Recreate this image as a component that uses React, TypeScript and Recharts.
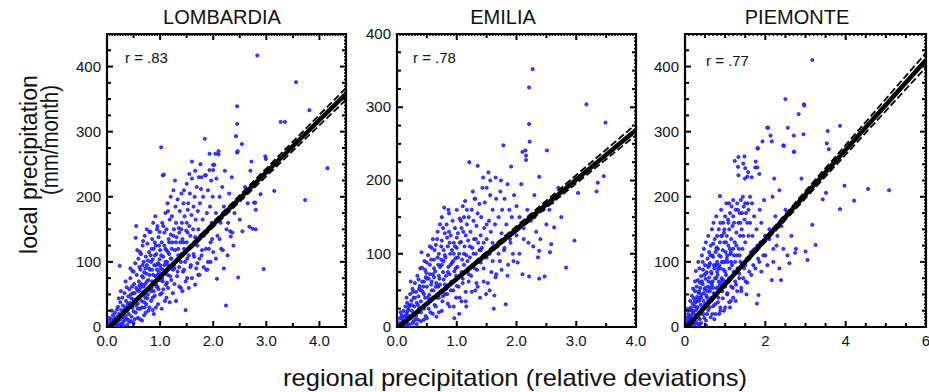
import React from "react";
import { ScatterChart, Scatter, XAxis, YAxis, ReferenceArea } from "recharts";

const FONT = "'Liberation Sans', Arial, Helvetica, sans-serif";

const titles = ["LOMBARDIA", "EMILIA", "PIEMONTE"];
const rLabels = ["r = .83", "r = .78", "r = .77"];
const yAxisLabel = ["local precipitation", "(mm/month)"];
const xAxisLabel = "regional precipitation (relative deviations)";

// points, [regional deviation, local mm/month]
const lombardiaPts: [number, number][] = [
  [0.03,2],[0.05,8],[0.06,1],[0.08,12],[0.1,5],[0.11,18],[0.12,3],[0.14,9],[0.15,22],[0.16,14],[0.18,6],[0.19,27],[0.2,16],[0.07,4],[0.13,11],[0.17,2],[0.09,25],[0.04,14],
  [0.21,31],[0.22,10],[0.23,20],[0.24,94],[0.25,38],[0.26,4],[0.27,26],[0.28,15],[0.29,45],[0.3,33],[0.31,8],[0.32,22],[0.33,52],[0.34,28],[0.35,17],[0.36,40],[0.37,61],[0.38,12],[0.39,35],[0.4,47],[0.22,44],[0.26,55],[0.3,2],[0.35,70],[0.38,25],
  [0.41,20],[0.42,58],[0.43,37],[0.44,75],[0.45,9],[0.46,44],[0.47,30],[0.48,86],[0.49,52],[0.5,24],[0.51,66],[0.52,40],[0.53,98],[0.54,137],[0.55,155],[0.55,33],[0.56,80],[0.57,57],[0.58,14],[0.59,105],[0.6,46],[0.6,70],[0.44,90],[0.47,62],[0.52,12],[0.57,118],[0.5,85],[0.58,36],
  [0.61,92],[0.62,28],[0.63,60],[0.64,112],[0.65,40],[0.66,78],[0.67,125],[0.68,54],[0.69,100],[0.7,18],[0.7,84],[0.71,140],[0.72,66],[0.73,108],[0.74,35],[0.75,95],[0.76,128],[0.77,50],[0.78,72],[0.79,115],[0.8,146],[0.8,60],[0.63,88],[0.66,10],[0.68,132],[0.72,45],[0.75,150],[0.78,25],[0.62,115],[0.74,82],[0.77,102],[0.69,62],
  [0.81,88],[0.82,146],[0.83,40],[0.84,120],[0.85,70],[0.86,104],[0.87,160],[0.88,55],[0.89,95],[0.9,130],[0.91,78],[0.92,30],[0.93,112],[0.94,150],[0.95,62],[0.96,98],[0.97,138],[0.98,84],[0.99,146],[1.0,50],[1.0,118],[0.83,100],[0.85,135],[0.88,20],[0.91,170],[0.94,88],[0.97,72],[0.86,45],[0.9,110],[0.99,104],[0.92,125],[0.95,155],
  [1.01,90],[1.02,276],[1.03,130],[1.04,160],[1.05,233],[1.05,70],[1.06,108],[1.07,234],[1.08,145],[1.09,40],[1.1,120],[1.1,175],[1.11,85],[1.12,150],[1.13,100],[1.14,190],[1.15,60],[1.16,135],[1.17,112],[1.18,165],[1.19,78],[1.2,142],[1.2,200],[1.03,52],[1.08,95],[1.12,118],[1.15,178],[1.18,92],[1.06,155],[1.13,68],
  [1.21,105],[1.22,170],[1.23,130],[1.24,88],[1.25,210],[1.26,150],[1.27,66],[1.28,118],[1.29,185],[1.3,100],[1.3,160],[1.31,138],[1.32,78],[1.33,196],[1.34,120],[1.35,152],[1.36,92],[1.37,178],[1.38,130],[1.39,60],[1.4,112],[1.4,205],[1.25,140],[1.33,104],[1.36,145],[1.28,225],
  [1.41,160],[1.42,135],[1.43,85],[1.44,190],[1.45,120],[1.46,170],[1.47,100],[1.48,26],[1.49,148],[1.5,220],[1.5,130],[1.51,75],[1.52,180],[1.53,190],[1.54,110],[1.55,155],[1.56,205],[1.57,140],[1.58,95],[1.59,172],[1.6,254],[1.6,228],[1.6,125],[1.45,210],[1.55,235],
  [1.62,150],[1.63,185],[1.64,108],[1.65,200],[1.66,138],[1.67,165],[1.68,90],[1.69,215],[1.7,125],[1.71,178],[1.72,150],[1.73,230],[1.74,105],[1.75,190],[1.76,140],[1.77,212],[1.78,230],[1.79,118],[1.8,165],[1.66,240],[1.72,80],[1.76,250],
  [1.81,200],[1.82,140],[1.84,289],[1.85,233],[1.86,233],[1.87,88],[1.88,175],[1.89,88],[1.9,210],[1.91,150],[1.92,120],[1.93,266],[1.93,241],[1.94,185],[1.95,100],[1.96,225],[1.97,160],[1.98,135],[1.99,200],[2.0,249],[2.0,241],[2.0,115],
  [2.02,249],[2.04,266],[2.05,175],[2.06,228],[2.07,74],[2.08,140],[2.1,265],[2.1,270],[2.12,200],[2.14,160],[2.15,120],[2.17,215],[2.2,90],[2.2,185],[2.22,240],[2.24,33],[2.25,150],[2.27,110],[2.3,205],[2.32,147],[2.33,139],[2.35,230],[2.38,125],[2.4,175],
  [2.43,293],[2.45,339],[2.45,312],[2.45,268],[2.46,270],[2.47,76],[2.5,200],[2.54,281],[2.55,147],[2.6,215],[2.65,190],[2.68,154],[2.7,240],[2.72,254],[2.74,151],[2.77,191],[2.79,191],[2.8,180],[2.8,150],[2.83,417],[2.89,204],[2.95,89],[2.98,262],[2.99,258],
  [3.15,209],[3.27,315],[3.35,315],[3.56,376],[3.73,195],[3.81,333],[4.02,321],[4.15,244],
  [0.15,0],[0.22,2],[0.28,5],[0.33,12],[0.38,3],[0.42,8],[0.46,16],[0.5,6],[0.54,22],[0.58,28],[0.62,12],[0.66,30],[0.7,38],[0.73,22],[0.76,44],[0.8,30],[0.83,55],[0.86,26],[0.9,48],[0.93,62],[0.96,35],[1.0,72],[1.03,28],[1.06,58],[1.09,82],[1.12,45],[1.15,95],[1.18,38],[1.21,72],[1.24,52],[1.27,90],[1.3,40],[1.33,85],[1.36,62],[1.39,100],[1.42,55],[1.45,88],[1.48,70],[1.51,105],[1.54,60],[1.57,92],[1.6,75],[1.63,112],[1.66,65],[1.7,98],[1.74,80],[1.78,110],[1.82,92],[1.86,120],[1.9,100],[1.95,130],[2.05,105],[2.12,135],[2.18,118],[2.28,160],[2.36,145],[2.5,165],
  [0.45,50],[0.5,42],[0.55,60],[0.6,55],[0.65,66],[0.7,50],[0.75,70],[0.8,80],[0.85,88],[0.9,70],[0.95,80],[1.0,95],[1.05,88],[1.1,100],[1.15,115],[1.2,105],[0.48,30],[0.52,52],[0.64,48],[0.68,76],[0.72,90],[0.78,58],[0.82,110],[0.88,120],[0.92,66],[0.98,125],[1.02,110],[1.08,125],[1.14,80],[1.22,120],[1.3,130],[1.4,150],[1.5,160],[0.35,30],[0.4,10],[0.25,12],[0.3,20],[0.2,8],[0.1,3],[0.57,44],[0.61,64],[0.67,95],[0.71,30],[0.79,90],[0.84,60],[0.87,80],[0.93,95],[0.97,58],[1.04,75],[1.11,65],[1.17,130],[1.26,95],[1.34,110],[1.44,130],[1.52,145],
];

const emiliaPts: [number, number][] = [
  [0.02,1],[0.04,6],[0.05,12],[0.07,3],[0.08,16],[0.1,8],[0.11,22],[0.12,2],[0.13,14],[0.14,28],[0.15,6],[0.16,19],[0.17,33],[0.18,10],[0.19,24],[0.2,4],[0.06,20],[0.09,11],[0.16,40],[0.2,15],
  [0.21,30],[0.22,45],[0.23,12],[0.24,36],[0.25,22],[0.26,52],[0.27,7],[0.28,40],[0.29,28],[0.3,60],[0.31,18],[0.32,48],[0.33,33],[0.34,70],[0.35,10],[0.36,42],[0.37,25],[0.38,56],[0.39,80],[0.4,35],[0.23,62],[0.28,18],[0.33,4],[0.36,65],[0.4,20],
  [0.41,102],[0.42,81],[0.43,48],[0.44,28],[0.45,62],[0.46,90],[0.47,40],[0.48,15],[0.49,74],[0.5,55],[0.51,32],[0.52,98],[0.53,66],[0.54,44],[0.55,85],[0.56,20],[0.57,58],[0.58,108],[0.59,38],[0.6,72],[0.6,120],[0.45,10],[0.5,88],[0.55,110],[0.58,50],[0.48,68],[0.53,25],[0.44,55],
  [0.61,50],[0.62,92],[0.63,30],[0.64,76],[0.65,112],[0.66,60],[0.67,40],[0.68,130],[0.69,85],[0.7,20],[0.7,100],[0.71,66],[0.72,140],[0.73,48],[0.74,92],[0.75,118],[0.76,35],[0.77,75],[0.78,105],[0.79,163],[0.8,58],[0.8,128],[0.63,105],[0.66,14],[0.69,55],[0.72,82],[0.75,150],[0.77,42],[0.62,68],[0.74,110],[0.78,90],
  [0.81,95],[0.82,70],[0.83,140],[0.84,45],[0.85,110],[0.86,82],[0.87,155],[0.88,28],[0.89,100],[0.9,125],[0.91,62],[0.92,88],[0.93,145],[0.94,50],[0.95,115],[0.96,76],[0.97,135],[0.98,94],[0.99,40],[1.0,108],[1.0,160],[0.84,122],[0.88,72],[0.92,105],[0.96,12],[0.99,70],[0.86,160],[0.94,90],
  [1.01,82],[1.02,128],[1.03,55],[1.04,100],[1.05,148],[1.06,70],[1.07,116],[1.08,35],[1.09,92],[1.1,165],[1.1,60],[1.11,130],[1.12,85],[1.13,110],[1.14,172],[1.15,48],[1.16,98],[1.17,140],[1.18,76],[1.19,118],[1.2,150],[1.2,62],[1.04,18],[1.12,150],[1.16,28],[1.08,135],
  [1.21,225],[1.22,95],[1.23,130],[1.24,70],[1.25,160],[1.26,108],[1.27,85],[1.28,145],[1.29,120],[1.3,175],[1.31,50],[1.31,175],[1.32,100],[1.33,138],[1.34,78],[1.35,220],[1.35,155],[1.36,115],[1.37,90],[1.38,168],[1.39,40],[1.4,125],[1.27,185],[1.33,60],[1.38,105],
  [1.41,150],[1.42,108],[1.44,204],[1.45,80],[1.46,135],[1.47,170],[1.48,95],[1.5,190],[1.5,120],[1.52,60],[1.53,211],[1.54,145],[1.55,100],[1.56,180],[1.57,130],[1.58,75],[1.6,160],[1.6,115],[1.43,190],[1.49,45],[1.56,200],
  [1.62,25],[1.63,43],[1.64,140],[1.65,204],[1.66,175],[1.68,110],[1.7,150],[1.72,90],[1.73,185],[1.75,128],[1.76,160],[1.78,248],[1.79,105],[1.8,175],[1.82,31],[1.83,140],[1.85,195],[1.86,85],[1.88,160],[1.89,120],[1.66,72],[1.74,200],
  [1.91,219],[1.92,150],[1.94,100],[1.96,180],[1.98,130],[2.0,165],[2.02,88],[2.05,150],[2.08,195],[2.1,72],[2.1,239],[2.12,120],[2.15,241],[2.16,234],[2.16,228],[2.18,160],[2.21,327],[2.21,277],[2.21,69],[2.22,253],[2.24,145],[2.27,352],[2.28,110],[2.3,180],[2.33,130],[2.36,95],[2.38,205],[2.38,104],[2.38,66],
  [2.45,160],[2.47,69],[2.5,140],[2.51,241],[2.56,102],[2.58,113],[2.6,170],[2.63,136],[2.7,190],[2.75,150],[2.83,81],[2.97,118],[3.03,183],[3.17,304],[3.34,185],[3.36,197],[3.46,206],[3.49,279],
  [0.14,2],[0.2,1],[0.26,5],[0.3,10],[0.35,20],[0.4,8],[0.45,25],[0.5,12],[0.55,35],[0.6,18],[0.65,28],[0.7,40],[0.75,22],[0.8,45],[0.85,32],[0.9,50],[0.95,28],[1.0,56],[1.05,40],[1.1,66],[1.15,35],[1.2,72],[1.25,48],[1.3,80],[1.35,55],[1.4,88],[1.45,62],[1.5,95],[1.55,50],[1.6,90],[1.65,68],[1.7,100],[1.75,78],[1.8,108],[1.85,70],[1.9,115],[1.95,90],[2.0,125],[2.05,100],[2.12,135],[2.2,115],[2.3,150],[2.4,120],[2.55,160],
  [0.3,40],[0.35,30],[0.4,50],[0.42,62],[0.45,45],[0.5,66],[0.52,40],[0.55,72],[0.58,62],[0.6,40],[0.62,80],[0.65,55],[0.68,95],[0.7,70],[0.72,58],[0.75,85],[0.78,65],[0.8,98],[0.82,52],[0.85,75],[0.88,115],[0.9,85],[0.92,60],[0.95,100],[0.98,80],[1.0,122],[1.02,95],[1.05,115],[1.08,75],[1.12,100],[1.15,125],[1.18,90],[1.22,110],[1.28,100],[1.32,120],[1.4,105],[1.45,115],[1.5,140],[0.25,30],[0.2,28],[0.15,16],[0.1,2],[0.18,22],[0.27,48],[0.32,15],[0.37,52],[0.47,78],[0.57,92],[0.67,120],[0.77,135],[0.87,130],[0.97,110],[1.07,145],[1.17,160],
];

const piemontePts: [number, number][] = [
  [0.02,2],[0.04,8],[0.05,14],[0.06,3],[0.08,20],[0.09,9],[0.1,1],[0.11,16],[0.12,26],[0.13,6],[0.14,12],[0.15,30],[0.16,18],[0.17,4],[0.18,24],[0.19,36],[0.2,10],[0.2,59],[0.07,28],[0.13,40],[0.17,48],
  [0.21,22],[0.22,44],[0.23,8],[0.24,32],[0.25,55],[0.26,16],[0.27,86],[0.27,38],[0.28,26],[0.29,62],[0.3,5],[0.3,46],[0.31,30],[0.32,72],[0.33,18],[0.34,52],[0.35,40],[0.36,90],[0.37,12],[0.38,60],[0.39,34],[0.4,78],[0.4,22],[0.25,70],[0.33,100],[0.36,4],[0.38,45],
  [0.41,50],[0.42,110],[0.43,28],[0.44,66],[0.45,88],[0.46,40],[0.47,120],[0.48,14],[0.49,58],[0.5,95],[0.5,35],[0.51,74],[0.52,130],[0.53,48],[0.54,84],[0.55,20],[0.56,105],[0.57,62],[0.58,140],[0.59,40],[0.6,76],[0.6,115],[0.44,100],[0.48,80],[0.53,2],[0.56,55],[0.42,20],[0.58,92],
  [0.61,30],[0.62,98],[0.63,60],[0.64,125],[0.65,45],[0.66,82],[0.67,150],[0.68,20],[0.69,70],[0.7,108],[0.71,160],[0.72,52],[0.73,90],[0.74,135],[0.75,35],[0.76,115],[0.77,75],[0.78,170],[0.79,60],[0.8,100],[0.8,140],[0.63,110],[0.66,40],[0.7,128],[0.73,12],[0.77,95],[0.65,68],[0.79,122],
  [0.81,80],[0.82,120],[0.83,45],[0.84,150],[0.85,95],[0.86,65],[0.87,201],[0.87,130],[0.88,30],[0.89,108],[0.9,180],[0.91,75],[0.92,140],[0.93,55],[0.94,118],[0.95,160],[0.96,88],[0.97,25],[0.98,130],[0.99,100],[1.0,170],[1.0,62],[0.83,90],[0.88,160],[0.92,100],[0.97,145],[0.85,20],[0.95,72],
  [1.01,115],[1.02,80],[1.03,190],[1.04,140],[1.05,50],[1.06,100],[1.07,165],[1.08,125],[1.09,70],[1.1,190],[1.1,150],[1.11,90],[1.12,175],[1.13,112],[1.14,40],[1.15,135],[1.16,185],[1.17,95],[1.18,155],[1.19,60],[1.2,120],[1.2,195],[1.04,105],[1.12,30],[1.16,76],
  [1.21,85],[1.22,160],[1.24,255],[1.24,130],[1.25,100],[1.26,180],[1.27,65],[1.28,145],[1.29,110],[1.3,190],[1.31,90],[1.32,246],[1.33,261],[1.33,233],[1.33,160],[1.34,120],[1.35,75],[1.36,175],[1.37,140],[1.38,100],[1.39,195],[1.4,55],[1.26,40],[1.36,110],
  [1.41,150],[1.43,120],[1.45,251],[1.46,185],[1.47,90],[1.48,262],[1.48,165],[1.49,228],[1.5,244],[1.5,130],[1.51,70],[1.52,175],[1.54,105],[1.55,231],[1.56,190],[1.57,238],[1.58,140],[1.6,85],[1.44,200],[1.53,50],
  [1.62,160],[1.64,115],[1.66,230],[1.67,190],[1.68,140],[1.7,95],[1.72,170],[1.74,120],[1.75,245],[1.76,254],[1.78,150],[1.79,36],[1.8,245],[1.81,274],[1.81,275],[1.82,105],[1.83,49],[1.85,235],[1.86,180],[1.88,130],[1.9,160],[1.93,285],[1.95,110],[1.97,195],[1.99,140],
  [2.05,306],[2.07,306],[2.1,150],[2.13,294],[2.16,285],[2.16,72],[2.18,200],[2.2,120],[2.22,228],[2.25,170],[2.3,140],[2.35,210],[2.39,72],[2.4,155],[2.45,279],[2.46,278],[2.5,350],[2.5,180],[2.56,306],[2.6,98],
  [2.71,294],[2.71,269],[2.72,269],[2.74,114],[2.76,120],[2.83,327],[2.9,228],[2.95,296],[2.96,342],[2.97,340],[3.0,116],[3.05,103],[3.17,410],[3.17,157],[3.25,126],[3.43,196],[3.51,206],[3.53,282],[3.55,301],[3.58,273],[3.86,309],[3.86,181],[3.97,217],[4.21,194],[4.56,212],[5.08,210],
  [0.15,0],[0.22,3],[0.28,8],[0.34,14],[0.4,6],[0.46,20],[0.52,10],[0.58,26],[0.64,15],[0.7,32],[0.76,20],[0.82,38],[0.88,25],[0.94,44],[1.0,30],[1.05,52],[1.1,38],[1.15,62],[1.2,45],[1.25,70],[1.3,55],[1.35,82],[1.4,60],[1.45,75],[1.5,95],[1.55,68],[1.6,105],[1.65,80],[1.7,118],[1.75,90],[1.8,125],[1.85,100],[1.9,85],[1.95,130],[2.0,110],[2.05,95],[2.1,135],[2.2,100],[2.28,125],[2.35,90],[2.45,120],[2.55,110],[2.65,140],
  [0.3,30],[0.35,55],[0.4,45],[0.42,70],[0.45,30],[0.5,60],[0.52,82],[0.55,45],[0.58,70],[0.6,95],[0.62,55],[0.65,85],[0.68,110],[0.7,60],[0.72,95],[0.75,75],[0.78,120],[0.8,85],[0.82,60],[0.85,110],[0.88,90],[0.9,140],[0.92,70],[0.95,100],[0.98,150],[1.0,85],[1.02,130],[1.05,110],[1.08,160],[1.1,75],[1.12,120],[1.15,100],[1.2,170],[1.22,110],[1.28,125],[1.32,180],[1.38,160],[1.42,175],[1.45,140],[1.5,190],[1.55,160],[1.58,180],[1.62,200],[0.25,40],[0.2,25],[0.18,12],[0.12,8],[0.27,18],[0.32,42],[0.37,68],[0.47,52],[0.57,38],[0.67,65],[0.74,50],[0.84,70],[0.94,65],[1.04,70],[1.14,115],
];

// regression line and its confidence limits
const lombardiaFit: [number, number][] = [[0.04, 0], [4.5, 358]];
const lombardiaUpper: [number, number][] = [[0.02, 0], [1.0, 79], [4.5, 367]];
const lombardiaLower: [number, number][] = [[0.07, 0], [1.0, 75], [4.5, 349]];
const emiliaFit: [number, number][] = [[0.03, 0], [4.0, 269]];
const emiliaUpper: [number, number][] = [[0.01, 0], [1.0, 68], [4.0, 277]];
const emiliaLower: [number, number][] = [[0.06, 0], [1.0, 64], [4.0, 262]];
const piemonteFit: [number, number][] = [[0.05, 0], [6.0, 410]];
const piemonteUpper: [number, number][] = [[0.03, 0], [1.0, 67.5], [6.0, 421]];
const piemonteLower: [number, number][] = [[0.08, 0], [1.0, 63.5], [6.0, 399]];

const PLOT_TOP = 34;
const PLOT_H = 293;
const MT = 10;
const AXIS_W = 45;
const AXIS_H = 25;

const toXY = (a: [number, number][]) => a.map(([x, y]) => ({ x, y }));
const steps = (max: number, step: number) => {
  const out: number[] = [];
  for (let i = 0; i * step <= max + 1e-9; i++) out.push(Math.round(i * step * 1000) / 1000);
  return out;
};
const onStep = (v: number, step: number) => Math.abs(v / step - Math.round(v / step)) < 1e-6;

const panels = [
  { title: titles[0], r: rLabels[0], rY: 63, rX: 125, pl: 107, pr: 346, mr: 10, xMax: 4.5, yMax: 450, xMajor: 1, xTiny: 0.05, digits: 1, pts: lombardiaPts, fit: lombardiaFit, up: lombardiaUpper, lo: lombardiaLower, titleX: 222 },
  { title: titles[1], r: rLabels[1], rY: 63, rX: 413, pl: 397, pr: 636, mr: 10, xMax: 4, yMax: 400, xMajor: 1, xTiny: 0.05, digits: 1, pts: emiliaPts, fit: emiliaFit, up: emiliaUpper, lo: emiliaLower, titleX: 503 },
  { title: titles[2], r: rLabels[2], rY: 66, rX: 706, pl: 685, pr: 926, mr: 3, xMax: 6, yMax: 450, xMajor: 2, xTiny: 0.1, digits: 0, pts: piemontePts, fit: piemonteFit, up: piemonteUpper, lo: piemonteLower, titleX: 797 },
];

const Dot = (props: any) => (
  <circle cx={props.cx} cy={props.cy} r={1.6} fill="#4242ff" stroke="#0000ff" strokeWidth={0.7} />
);
const NoDot = () => <g />;

function Panel({ p }: { p: (typeof panels)[number] }) {
  const pw = p.pr - p.pl;
  const width = pw + AXIS_W + p.mr;
  const height = MT + PLOT_H + AXIS_H;
  const top = MT;
  const bottom = MT + PLOT_H;
  const left = AXIS_W;
  const right = AXIS_W + pw;

  const xTick = (props: any) => {
    const { x, payload } = props;
    const v = payload.value;
    const major = onStep(v, p.xMajor);
    const minor = onStep(v, 0.5);
    const len = major ? 6 : minor ? 4 : 2;
    return (
      <g>
        {(major || minor) && <line x1={x} x2={x} y1={bottom} y2={bottom - len} stroke="#000" strokeWidth={2} />}
        <line x1={x} x2={x} y1={top} y2={top + len} stroke="#000" strokeWidth={major || minor ? 2 : 1.5} />
        {major && (
          <text x={x} y={bottom + 19} textAnchor="middle" fontSize={15} fontFamily={FONT} fill="#111">
            {v.toFixed(p.digits)}
          </text>
        )}
      </g>
    );
  };

  const yTick = (props: any) => {
    const { y, payload } = props;
    const v = payload.value;
    const major = onStep(v, 100);
    const minor = onStep(v, 25);
    const len = major ? 6 : minor ? 4 : 2;
    return (
      <g>
        {(major || minor) && <line x1={left} x2={left + len} y1={y} y2={y} stroke="#000" strokeWidth={2} />}
        <line x1={right} x2={right - len} y1={y} y2={y} stroke="#000" strokeWidth={major || minor ? 2 : 1.5} />
        {major && (
          <text x={left - 6} y={y} dy="0.33em" textAnchor="end" fontSize={15} fontFamily={FONT} fill="#111">
            {v}
          </text>
        )}
      </g>
    );
  };

  return (
    <div style={{ position: "absolute", left: p.pl - AXIS_W, top: PLOT_TOP - MT, width, height }}>
      <ScatterChart width={width} height={height} margin={{ top: MT, right: p.mr, bottom: 0, left: 0 }}>
        <XAxis
          type="number"
          dataKey="x"
          domain={[0, p.xMax]}
          ticks={steps(p.xMax, p.xTiny)}
          interval={0}
          allowDataOverflow
          height={AXIS_H}
          axisLine={false}
          tickLine={false}
          tickSize={0}
          tickMargin={0}
          tick={xTick}
        />
        <YAxis
          type="number"
          dataKey="y"
          domain={[0, p.yMax]}
          ticks={steps(p.yMax, 5)}
          interval={0}
          allowDataOverflow
          width={AXIS_W}
          axisLine={false}
          tickLine={false}
          tickSize={0}
          tickMargin={0}
          tick={yTick}
        />
        <ReferenceArea x1={0} x2={p.xMax} y1={0} y2={p.yMax} fill="none" fillOpacity={0} stroke="#000" strokeWidth={2.2} />
        <Scatter data={toXY(p.pts)} shape={Dot} isAnimationActive={false} />
        <Scatter data={toXY(p.up)} fill="#000" shape={NoDot} line={{ stroke: "#000", strokeWidth: 1.8, strokeDasharray: "7 3" }} isAnimationActive={false} />
        <Scatter data={toXY(p.lo)} fill="#000" shape={NoDot} line={{ stroke: "#000", strokeWidth: 1.8, strokeDasharray: "7 3" }} isAnimationActive={false} />
        <Scatter data={toXY(p.fit)} fill="#000" shape={NoDot} line={{ stroke: "#000", strokeWidth: 4.5 }} isAnimationActive={false} />
      </ScatterChart>
    </div>
  );
}

export default function App() {
  return (
    <div style={{ position: "absolute", left: 0, top: 0, width: 929, height: 392, overflow: "hidden", background: "#fff" }}>
      {panels.map((p) => (
        <Panel key={p.title} p={p} />
      ))}
      <svg width={929} height={392} style={{ position: "absolute", left: 0, top: 0, pointerEvents: "none" }} fontFamily={FONT} fill="#111">
        {panels.map((p) => (
          <g key={p.title}>
            <text x={p.titleX} y={24} textAnchor="middle" fontSize={20}>{p.title}</text>
            <text x={p.rX} y={p.rY} fontSize={15}>{p.r}</text>
          </g>
        ))}
        <text transform="translate(37,164.5) rotate(-90)" textAnchor="middle" fontSize={23} textLength={179} lengthAdjust="spacingAndGlyphs">
          {yAxisLabel[0]}
        </text>
        <text transform="translate(58,140) rotate(-90)" textAnchor="middle" fontSize={23} textLength={110} lengthAdjust="spacingAndGlyphs">
          {yAxisLabel[1]}
        </text>
        <text x={283} y={386} fontSize={24} textLength={464} lengthAdjust="spacingAndGlyphs">
          {xAxisLabel}
        </text>
      </svg>
    </div>
  );
}
